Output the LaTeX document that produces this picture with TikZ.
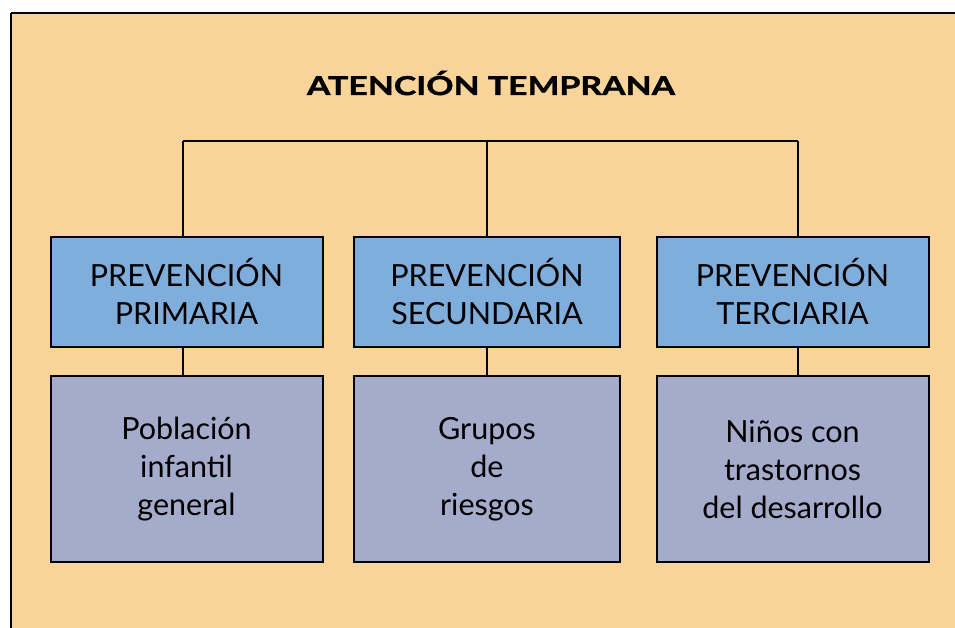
\documentclass[tikz,border=0pt]{standalone}
\usepackage{fontspec}
\setmainfont{Lato}
\newfontfamily\titlefont[FakeStretch=1.3,FakeBold=1.5]{Lato Bold}
\definecolor{bgtan}{HTML}{F8D39A}
\definecolor{boxblue}{HTML}{80AEDC}
\definecolor{boxlav}{HTML}{A5ABCB}
\begin{document}
\begin{tikzpicture}[x=1pt,y=-1pt,
  headbox/.style={draw=black,line width=2pt,fill=boxblue,minimum width=272pt,minimum height=110pt,align=center,font=\fontsize{30.5}{38}\selectfont,inner sep=0pt},
  groupbox/.style={draw=black,line width=2pt,fill=boxlav,minimum width=272pt,minimum height=186pt,align=center,font=\fontsize{30.5}{38}\selectfont,inner sep=0pt},
  link/.style={draw=black,line width=2pt}]
\useasboundingbox (0,0) rectangle (955,627);
\begin{scope}
\clip (0,0) rectangle (955,627);
\fill[bgtan] (11,13) rectangle (970,650);
\draw[line width=2.5pt] (11,13) -- (970,13);
\draw[line width=2.5pt] (11,13) -- (11,650);
\end{scope}
\node[font=\titlefont\fontsize{26}{28}\selectfont] (title) at (491,83) {ATENCIÓN TEMPRANA};
\node[headbox] (p1) at (186.5,291.5) {PREVENCIÓN\\PRIMARIA};
\node[headbox,minimum width=266pt] (p2) at (487,291.5) {PREVENCIÓN\\SECUNDARIA};
\node[headbox] (p3) at (792.5,291.5) {PREVENCIÓN\\TERCIARIA};
\node[groupbox] (g1) at (186.5,469) {Población\\infantil\\general};
\node[groupbox,minimum width=266pt] (g2) at (487,469) {Grupos\\de\\riesgos};
\node[groupbox] (g3) at (792.5,469) {Niños con\\trastornos\\del desarrollo};
\coordinate (h1) at (183,141);
\coordinate (h2) at (487,141);
\coordinate (h3) at (798,141);
\draw[link] (h1) -- (h3);
\draw[link] (h1) -- (h1 |- p1.north);
\draw[link] (h2) -- (p2.north);
\draw[link] (h3) -- (h3 |- p3.north);
\draw[link] (p1.south -| h1) -- (g1.north -| h1);
\draw[link] (p2.south) -- (g2.north);
\draw[link] (p3.south -| h3) -- (g3.north -| h3);
\end{tikzpicture}
\end{document}
